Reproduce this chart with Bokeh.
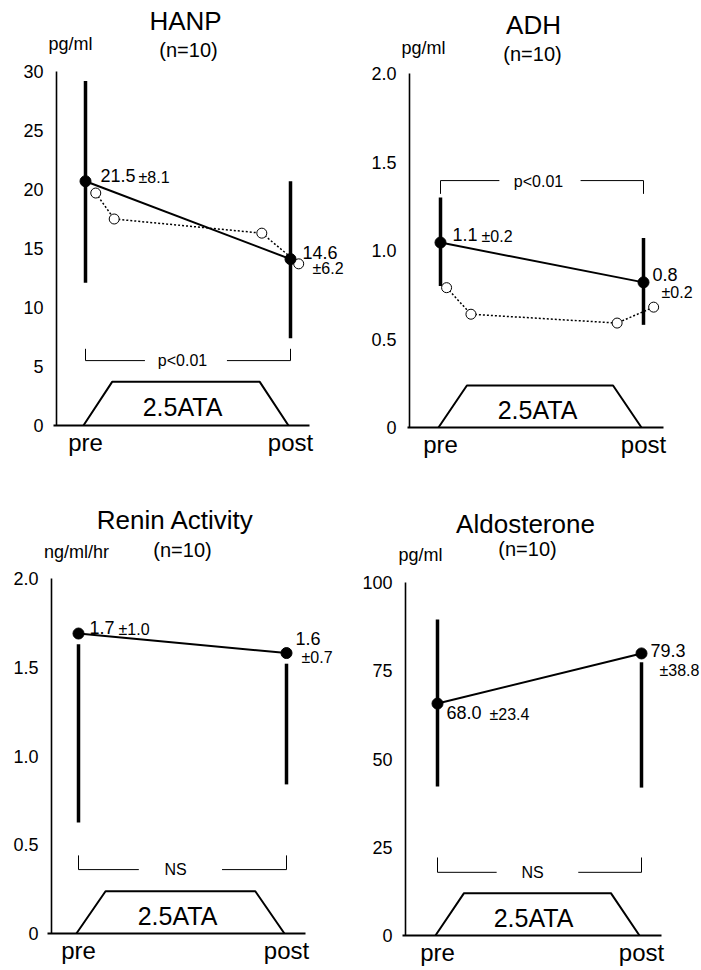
from bokeh.plotting import figure
from bokeh.models import FixedTicker, Label
from bokeh.layouts import column, row
from bokeh.embed import file_html
from bokeh.resources import INLINE

FONT = "Liberation Sans"

# ---------------- data ----------------
times = [0, 1]                       # pre, post
time_labels = {0: "pre", 1: "post"}
exposure = "2.5ATA"
n_label = "(n=10)"

hanp_mean = [20.7, 14.1]
hanp_hi = [29.2, 20.7]
hanp_lo = [12.1, 7.4]
hanp_open_t = [0.05, 0.14, 0.86, 1.04]
hanp_open_v = [19.7, 17.5, 16.3, 13.7]
hanp_ticks = [0, 5, 10, 15, 20, 25, 30]
hanp_vals = ["21.5", "±8.1", "14.6", "±6.2"]

adh_mean = [1.045, 0.82]
adh_hi = [1.30, 1.07]
adh_lo = [0.80, 0.58]
adh_open_t = [0.03, 0.15, 0.87, 1.05]
adh_open_v = [0.79, 0.64, 0.59, 0.68]
adh_ticks = [0, 0.5, 1.0, 1.5, 2.0]
adh_vals = ["1.1", "±0.2", "0.8", "±0.2"]

renin_mean = [1.69, 1.58]
renin_hi = [1.63, 1.52]
renin_lo = [0.625, 0.84]
renin_ticks = [0, 0.5, 1.0, 1.5, 2.0]
renin_vals = ["1.7", "±1.0", "1.6", "±0.7"]

aldo_mean = [65.7, 79.9]
aldo_hi = [89.5, 77.4]
aldo_lo = [42.2, 41.9]
aldo_ticks = [0, 25, 50, 75, 100]
aldo_vals = ["68.0", "±23.4", "79.3", "±38.8"]

tick_text = {0: "0", 0.5: "0.5", 1: "1.0", 1.5: "1.5", 2: "2.0"}


def panel(g, title, unit, ticks, overrides, mean, hi, lo, open_t, open_v,
          vals, val_pos, sig, brk, trap_h, txt):
    ppu_x = g["post"] - g["pre"]
    ppu_y = g["ppu_y"]

    def X(px):
        return (px - g["pre"]) / ppu_x

    def Y(py):
        return (g["zero"] - py) / ppu_y

    x_start, x_end = X(g["fx"]), X(g["fx"] + g["w"])
    y_start, y_end = Y(g["fy"] + g["h"]), Y(g["fy"])

    p = figure(width=g["w"], height=g["h"], x_range=(x_start, x_end),
               y_range=(y_start, y_end), output_backend="svg",
               toolbar_location=None, min_border=0)
    p.outline_line_color = None
    p.grid.visible = False
    p.background_fill_color = "white"
    p.border_fill_color = "white"

    ya = p.yaxis[0]
    ya.fixed_location = X(g["axis"])
    ya.ticker = FixedTicker(ticks=ticks)
    if overrides:
        ya.major_label_overrides = overrides
    ya.bounds = (0, ticks[-1])
    ya.major_tick_out = 0
    ya.major_tick_in = 0
    ya.minor_tick_out = 0
    ya.minor_tick_in = 0
    ya.axis_line_width = 1.6
    ya.axis_line_color = "black"
    ya.major_label_standoff = 13
    ya.major_label_text_font = FONT
    ya.major_label_text_font_size = "18px"
    ya.major_label_text_color = "black"

    xa = p.xaxis[0]
    xa.fixed_location = 0
    xa.ticker = FixedTicker(ticks=times)
    xa.major_label_overrides = time_labels
    xa.bounds = (X(g["base_left"]), X(g["base_right"]))
    xa.major_tick_out = 0
    xa.major_tick_in = 0
    xa.minor_tick_out = 0
    xa.minor_tick_in = 0
    xa.axis_line_width = 2
    xa.axis_line_color = "black"
    xa.major_label_standoff = 3
    xa.major_label_text_font = FONT
    xa.major_label_text_font_size = "24px"
    xa.major_label_text_color = "black"

    # exposure trapezoid
    tx = [-0.01, 0.13, 0.85, 0.99]
    p.line(tx, [0, trap_h, trap_h, 0], line_color="black", line_width=2)

    # significance bracket
    yb, ytip = brk
    p.line([0, 0, 0.29], [ytip, yb, yb], line_color="black", line_width=1)
    p.line([0.69, 1, 1], [yb, yb, ytip], line_color="black", line_width=1)

    # error bars, means
    p.segment(x0=times, y0=lo, x1=times, y1=hi, line_color="black", line_width=3.5)
    p.line(times, mean, line_color="black", line_width=2)
    if open_t:
        p.line(open_t, open_v, line_color="black", line_width=1.5, line_dash="2 2")
        p.scatter(open_t, open_v, size=10, marker="circle", fill_color="white",
                  line_color="black", line_width=1)
    p.scatter(times, mean, size=11, marker="circle", fill_color="black",
              line_color="black")

    def lab(text, px, py, size, align="center"):
        p.add_layout(Label(x=X(px), y=Y(py), text=text, text_font=FONT,
                           text_font_size=size, text_align=align,
                           text_baseline="middle", text_color="black"))

    lab(title, txt["title"][0], txt["title"][1], "26px")
    lab(n_label, txt["n"][0], txt["n"][1], "20px")
    lab(unit, txt["unit"][0], txt["unit"][1], "18px")
    lab(sig, txt["sig"][0], txt["sig"][1], "16px")
    lab(exposure, txt["ata"][0], txt["ata"][1], "25px")
    for t, (px, py), s in zip(vals, val_pos, ["18px", "16px", "18px", "16px"]):
        lab(t, px, py, s, "left")
    return p


g1 = dict(fx=0, fy=0, w=351, h=470, axis=56, zero=425, ppu_y=11.8,
          pre=85, post=290, base_left=53, base_right=309)
g2 = dict(fx=351, fy=0, w=350, h=470, axis=409, zero=427, ppu_y=177.0,
          pre=440, post=643, base_left=407, base_right=663)
g3 = dict(fx=0, fy=470, w=351, h=500, axis=51, zero=933, ppu_y=177.5,
          pre=78, post=286, base_left=47, base_right=305)
g4 = dict(fx=351, fy=470, w=350, h=500, axis=405, zero=935, ppu_y=3.53,
          pre=437, post=641, base_left=402, base_right=661)

p1 = panel(g1, "HANP", "pg/ml", hanp_ticks, None, hanp_mean, hanp_hi, hanp_lo,
           hanp_open_t, hanp_open_v, hanp_vals,
           [(100, 175), (138, 177), (302, 252), (312, 268)],
           "p<0.01", (5.5, 6.5), 3.7,
           dict(title=(185, 20), n=(188, 49), unit=(70, 43), sig=(182, 360),
                ata=(182, 406)))
p2 = panel(g2, "ADH", "pg/ml", adh_ticks, tick_text, adh_mean, adh_hi, adh_lo,
           adh_open_t, adh_open_v, adh_vals,
           [(452, 234), (481, 236), (652, 274), (661, 292)],
           "p<0.01", (1.395, 1.32), 0.237,
           dict(title=(533, 24), n=(532, 53), unit=(423, 47), sig=(538, 181),
                ata=(537, 409)))
p3 = panel(g3, "Renin Activity", "ng/ml/hr", renin_ticks, tick_text, renin_mean,
           renin_hi, renin_lo, None, None, renin_vals,
           [(89, 627), (118, 629), (295, 638), (301, 657)],
           "NS", (0.36, 0.44), 0.238,
           dict(title=(175, 519), n=(182, 549), unit=(76, 551), sig=(175, 869),
                ata=(177, 915)))
p4 = panel(g4, "Aldosterone", "pg/ml", aldo_ticks, None, aldo_mean, aldo_hi,
           aldo_lo, None, None, aldo_vals,
           [(446, 712), (489, 714), (650, 650), (659, 670)],
           "NS", (17.9, 22.1), 12.0,
           dict(title=(525, 523), n=(527, 548), unit=(420, 554), sig=(532, 872),
                ata=(533, 917)))

layout = column(row(p1, p2), row(p3, p4))
open("out.html", "w").write(file_html(layout, INLINE))
